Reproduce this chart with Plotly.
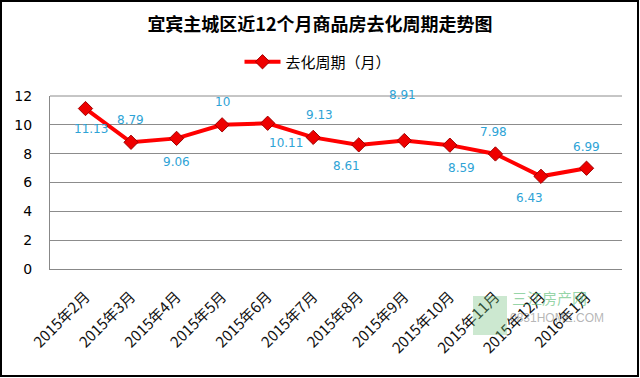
import plotly.graph_objects as go

months = ["2015年2月", "2015年3月", "2015年4月", "2015年5月", "2015年6月", "2015年7月",
          "2015年8月", "2015年9月", "2015年10月", "2015年11月", "2015年12月", "2016年1月"]
cycle = [11.13, 8.79, 9.06, 10, 10.11, 9.13, 8.61, 8.91, 8.59, 7.98, 6.43, 6.99]
value_labels = ["11.13", "8.79", "9.06", "10", "10.11", "9.13", "8.61", "8.91", "8.59", "7.98", "6.43", "6.99"]
label_dx = [6, -1, 0, 0, 18, 6, -12, -2, 12, -2, -11, 0]
label_dy = [-20, 22, -24, 23, -20, 22, -21, 46, -23, 22, -22, 21]
y_ticks = [0, 2, 4, 6, 8, 10, 12]

L, R, T, B = 50, 18, 96, 109
W, H = 640, 378
pw, ph = W - L - R, H - T - B

fig = go.Figure()
fig.add_trace(go.Scatter(
    x=months, y=cycle, mode="lines+markers", name="去化周期（月）",
    line=dict(color="#ff0000", width=4),
    marker=dict(symbol="diamond", size=11, color="#ee0000", line=dict(color="#a00000", width=1)),
))

for m, v, t, dx, dy in zip(months, cycle, value_labels, label_dx, label_dy):
    fig.add_annotation(x=m, y=v, text=t, showarrow=False, xshift=dx, yshift=dy,
                       font=dict(family="DejaVu Sans", size=12, color="#2ea3d6"))

# watermark
fig.add_annotation(xref="paper", yref="paper", x=(510 - L) / pw, y=(269 - 310) / ph,
                   text="三江房产网", showarrow=False, xanchor="left",
                   font=dict(family="Noto Sans CJK SC", size=15, color="rgba(80,185,110,0.6)"))
fig.add_annotation(xref="paper", yref="paper", x=(508 - L) / pw, y=(269 - 327) / ph,
                   text="0831HOME.COM", showarrow=False, xanchor="left",
                   font=dict(family="Liberation Sans Narrow, Liberation Sans", size=12, color="rgba(120,120,120,0.55)"))
fig.add_shape(type="rect", xref="paper", yref="paper",
              x0=(473 - L) / pw, x1=(507 - L) / pw, y0=(269 - 335) / ph, y1=(269 - 296) / ph,
              line=dict(width=0), fillcolor="rgba(110,190,120,0.35)", layer="above")

# outer border
fig.add_shape(type="rect", xref="paper", yref="paper",
              x0=(1 - L) / pw, x1=(638 - L) / pw, y0=(269 - 376) / ph, y1=(269 - 1) / ph,
              line=dict(color="#000000", width=2))

fig.update_layout(
    width=W, height=H,
    margin=dict(l=L, r=R, t=T, b=B, autoexpand=False),
    paper_bgcolor="white", plot_bgcolor="white",
    title=dict(text="<b>宜宾主城区近12个月商品房去化周期走势图</b>", x=0.5, xanchor="center",
               y=1 - 25 / H, yanchor="middle",
               font=dict(family="Noto Sans CJK SC", size=18, color="#000000")),
    showlegend=True,
    legend=dict(orientation="h", x=(318 - L) / pw, xanchor="center", y=(269 - 62) / ph, yanchor="middle",
                font=dict(family="Noto Sans CJK SC", size=15, color="#000000"),
                bgcolor="rgba(0,0,0,0)", itemwidth=36),
    font=dict(family="Noto Sans CJK SC"),
)
fig.update_xaxes(type="category", showgrid=False, showline=True, linecolor="#888888", linewidth=1,
                 tickangle=-45, ticks="", ticklabelstandoff=12, automargin=False,
                 tickfont=dict(family="Noto Sans CJK SC", size=15, color="#111111"))
fig.update_yaxes(range=[0, 12], tickvals=y_ticks, showgrid=True, gridcolor="#8c8c8c", gridwidth=1,
                 showline=True, linecolor="#888888", linewidth=1, zeroline=False, ticks="",
                 ticklabelstandoff=14, automargin=False,
                 tickfont=dict(family="DejaVu Sans", size=14, color="#000000"))
fig.add_shape(type="line", xref="paper", yref="paper", x0=0, x1=1, y0=1, y1=1,
              line=dict(color="#8c8c8c", width=1))

fig.write_html("out.html", config={"displayModeBar": False},
               post_script="document.body.style.margin='0';document.body.style.overflow='hidden';")
